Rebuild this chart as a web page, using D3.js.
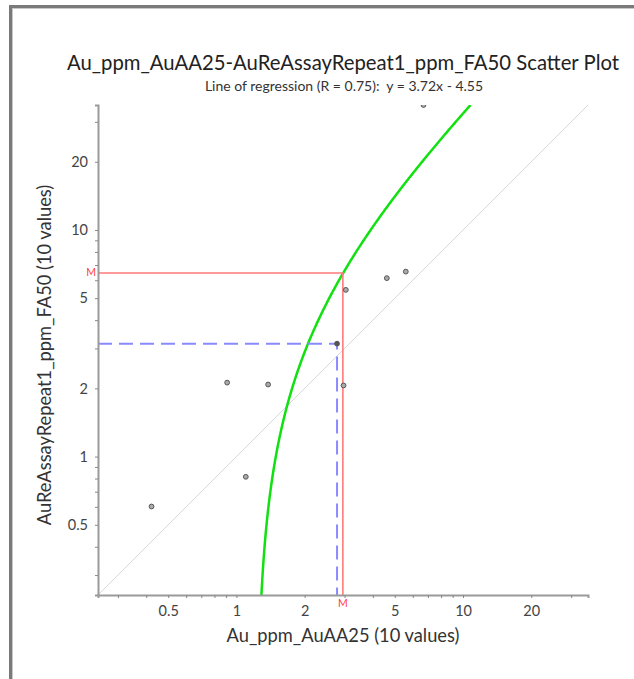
<!DOCTYPE html>
<html>
<head>
<meta charset="utf-8">
<script src="https://cdn.jsdelivr.net/npm/d3@7"></script>
<style>
  body { margin: 0; background: #fff; }
  text { font-family: Lato, "Open Sans", sans-serif; }
</style>
</head>
<body>
<div id="chart"></div>
<script>
// values
var xValues = [0.422, 1.10, 0.91, 1.38, 2.78, 2.97, 3.04, 4.61, 5.59, 6.69];
var yValues = [0.602, 0.814, 2.12, 2.08, 3.15, 2.06, 5.44, 6.13, 6.55, 35.6];
var axisDomain = [0.245, 35.6];
var tickValues = [0.3, 0.4, 0.5, 0.6, 0.7, 0.8, 0.9, 1, 2, 3, 4, 5, 6, 7, 8, 9, 10, 20, 30];
var tickLabels = [0.5, 1, 2, 5, 10, 20];
var slope = 3.72, intercept = -4.55, rValue = 0.75;
var highlighted = 4; // point marked with the blue dashed guide
var titleText = "Au_ppm_AuAA25-AuReAssayRepeat1_ppm_FA50 Scatter Plot";
var xLabel = "Au_ppm_AuAA25 (10 values)";
var yLabel = "AuReAssayRepeat1_ppm_FA50 (10 values)";

var W = 634, H = 679;
var margin = {top: 105, right: 46, bottom: 84, left: 98},
    width = W - margin.left - margin.right,
    height = H - margin.top - margin.bottom;

var root = d3.select("#chart").append("svg")
  .attr("width", W).attr("height", H);

// frame around the panel
root.append("rect")
  .attr("x", 10.5).attr("y", 6.5)
  .attr("width", W + 20).attr("height", H + 20)
  .attr("fill", "none").attr("stroke", "#7a7a7a").attr("stroke-width", 3);
root.append("rect")
  .attr("x", 12.5).attr("y", 8.5)
  .attr("width", W + 20).attr("height", H + 20)
  .attr("fill", "none").attr("stroke", "#c8c8c8").attr("stroke-width", 1);

var svg = root.append("g")
  .attr("transform", "translate(" + margin.left + "," + margin.top + ")");

var x = d3.scaleLog().domain(axisDomain).range([0, width]);
var y = d3.scaleLog().domain(axisDomain).range([height, 0]);

svg.append("clipPath").attr("id", "plotClip")
  .append("rect").attr("width", width).attr("height", height);

var plot = svg.append("g").attr("clip-path", "url(#plotClip)");

// y = x reference
plot.append("line")
  .attr("x1", x(axisDomain[0])).attr("y1", y(axisDomain[0]))
  .attr("x2", x(axisDomain[1])).attr("y2", y(axisDomain[1]))
  .attr("stroke", "#d8d8d8").attr("stroke-width", 1);

// regression line, drawn in log space so it bends
var fit = function(v) { return slope * v + intercept; };
var x0 = (axisDomain[0] - intercept) / slope;
var x1 = (axisDomain[1] - intercept) / slope;
var samples = d3.range(0, 201).map(function(i) {
  var v = x0 * Math.pow(x1 / x0, i / 200);
  return [v, fit(v)];
});
plot.append("path")
  .datum(samples)
  .attr("fill", "none")
  .attr("stroke", "#11e011")
  .attr("stroke-width", 2.5)
  .attr("d", d3.line()
    .x(function(d) { return x(d[0]); })
    .y(function(d) { return y(d[1]); }));

// mean guide (M)
var meanX = d3.mean(xValues), meanY = d3.mean(yValues);
plot.append("path")
  .attr("fill", "none")
  .attr("stroke", "#ff7a7a")
  .attr("stroke-width", 1.6)
  .attr("d", "M0," + y(meanY) + "H" + x(meanX) + "V" + height);

// highlighted point guide
plot.append("path")
  .attr("fill", "none")
  .attr("stroke", "#8a8aff")
  .attr("stroke-width", 2)
  .attr("stroke-dasharray", "14,7")
  .attr("d", "M0," + y(yValues[highlighted]) + "H" + x(xValues[highlighted]) + "V" + height);

// points
plot.selectAll("circle")
  .data(xValues)
  .enter()
  .append("circle")
  .attr("cx", function(d) { return x(d); })
  .attr("cy", function(d, i) { return y(yValues[i]); })
  .attr("r", 2.4)
  .attr("fill", function(d, i) { return i === highlighted ? "#555" : "#aaa"; })
  .attr("stroke", "#555")
  .attr("stroke-width", 1);

// axes
var fmt = function(d) { return tickLabels.indexOf(d) >= 0 ? String(d) : ""; };
var xAxis = svg.append("g")
  .attr("transform", "translate(0," + height + ")")
  .call(d3.axisBottom(x).tickValues(tickValues).tickFormat(fmt).tickSize(3).tickPadding(8));
var yAxis = svg.append("g")
  .call(d3.axisLeft(y).tickValues(tickValues).tickFormat(fmt).tickSize(3).tickPadding(7));

[xAxis, yAxis].forEach(function(a) {
  a.select(".domain").attr("stroke", "#9a9a9a").attr("stroke-width", 2);
  a.selectAll(".tick line").attr("stroke", "#888");
  a.selectAll(".tick text").attr("fill", "#444").style("font-size", "14.5px");
});

// M markers
svg.append("text")
  .attr("x", -2).attr("y", y(meanY))
  .attr("text-anchor", "end").attr("dominant-baseline", "middle")
  .attr("fill", "#ff3b3b").style("font-size", "10.5px")
  .text("M");
svg.append("text")
  .attr("x", x(meanX)).attr("y", height + 12)
  .attr("text-anchor", "middle")
  .attr("fill", "#ff3b3b").style("font-size", "10.5px")
  .text("M");

// titles
root.append("text")
  .attr("x", margin.left + width / 2).attr("y", 70)
  .attr("text-anchor", "middle")
  .attr("fill", "#222").style("font-size", "20.3px")
  .text(titleText);
root.append("text")
  .attr("x", margin.left + width / 2 + 1).attr("y", 91)
  .attr("text-anchor", "middle")
  .attr("fill", "#333").style("font-size", "14px")
  .text("Line of regression (R = " + rValue.toFixed(2) + "):\u00a0\u00a0y = " + slope.toFixed(2) + "x - " + Math.abs(intercept).toFixed(2));
root.append("text")
  .attr("x", margin.left + width / 2).attr("y", 642)
  .attr("text-anchor", "middle")
  .attr("fill", "#333").style("font-size", "18.3px")
  .text(xLabel);
root.append("text")
  .attr("transform", "translate(51," + (margin.top + height / 2 + 5) + ") rotate(-90)")
  .attr("text-anchor", "middle")
  .attr("fill", "#333").style("font-size", "18.3px")
  .text(yLabel);
</script>
</body>
</html>
